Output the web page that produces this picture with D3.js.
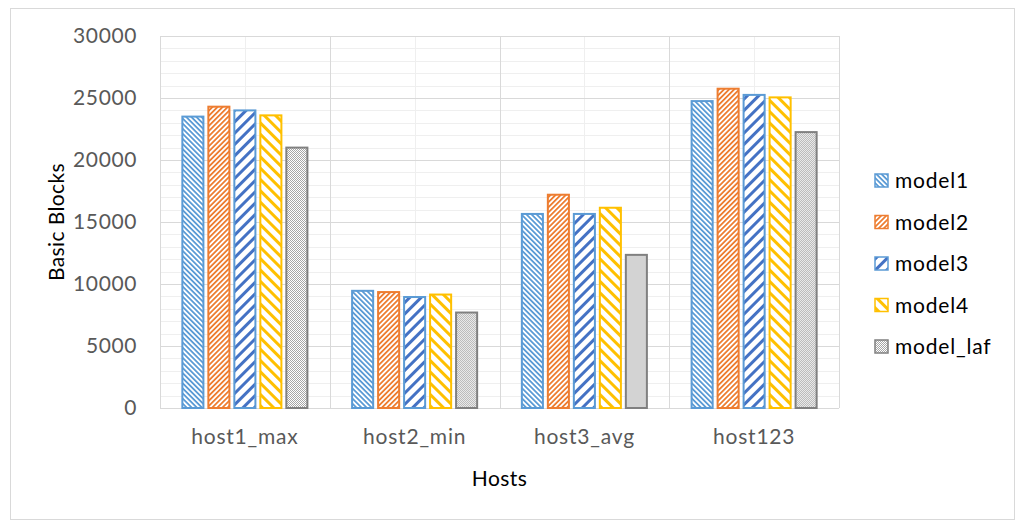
<!DOCTYPE html>
<html>
<head>
<meta charset="utf-8">
<script src="https://cdn.jsdelivr.net/npm/d3@7"></script>
<style>
  body { margin: 0; background: #fff; }
  #chart { width: 1024px; height: 528px; }
  text { font-family: Lato, "Noto Sans", sans-serif; }
</style>
</head>
<body>
<div id="chart"></div>
<script>
const hosts = ['host1_max', 'host2_min', 'host3_avg', 'host123']
const models = ['model1', 'model2', 'model3', 'model4', 'model_laf']
const model1 = [23500, 9450, 15650, 24750]
const model2 = [24300, 9350, 17200, 25750]
const model3 = [24000, 8950, 15650, 25250]
const model4 = [23600, 9150, 16150, 25050]
const modelLaf = [21000, 7700, 12350, 22250]
const yTicks = [0, 5000, 10000, 15000, 20000, 25000, 30000]

const seriesValues = [model1, model2, model3, model4, modelLaf]

const width = 1024
const height = 528
const margin = { top: 36, right: 185, bottom: 120, left: 160 }
const plotW = width - margin.left - margin.right
const plotH = height - margin.top - margin.bottom

const svg = d3.select('#chart').append('svg')
  .attr('width', width)
  .attr('height', height)

// outer chart border
svg.append('rect')
  .attr('x', 10.5).attr('y', 8.5)
  .attr('width', 1004).attr('height', 511)
  .attr('fill', '#fff')
  .attr('stroke', '#d9d9d9')

// patterns, roughly the excel fills
const defs = svg.append('defs')
const stripe = (id, color, size, band, angle) => {
  const p = defs.append('pattern')
    .attr('id', id)
    .attr('patternUnits', 'userSpaceOnUse')
    .attr('width', size).attr('height', size)
    .attr('patternTransform', 'rotate(' + angle + ')')
  p.append('rect').attr('width', size).attr('height', size).attr('fill', '#fff')
  p.append('rect').attr('width', band).attr('height', size).attr('fill', color)
}
stripe('p-model1', '#5b9bd5', 3.6, 1.8, -45)
stripe('p-model2', '#ed7d31', 3.6, 1.8, 45)
stripe('p-model3', '#4472c4', 8, 3, 45)
stripe('p-model4', '#ffc000', 8, 3, -45)
const chk = defs.append('pattern')
  .attr('id', 'p-model_laf')
  .attr('patternUnits', 'userSpaceOnUse')
  .attr('width', 2).attr('height', 2)
chk.append('rect').attr('width', 2).attr('height', 2).attr('fill', '#fff')
chk.append('rect').attr('width', 1).attr('height', 1).attr('fill', '#a6a6a6')
chk.append('rect').attr('x', 1).attr('y', 1).attr('width', 1).attr('height', 1).attr('fill', '#a6a6a6')

const strokes = { model1: '#5b9bd5', model2: '#ed7d31', model3: '#5b9bd5', model4: '#ffc000', model_laf: '#808080' }

const g = svg.append('g')
  .attr('transform', 'translate(' + margin.left + ',' + margin.top + ')')

const x0 = d3.scaleBand().domain(hosts).range([0, plotW])
const x1 = d3.scaleBand().domain(models).range([0, x0.bandwidth()])
  .paddingInner(0.19).paddingOuter(0.86)
const y = d3.scaleLinear().domain([0, 30000]).range([plotH, 0])

// minor horizontal grid
g.append('g').selectAll('line')
  .data(d3.range(0, 30001, 1000).filter(v => v % 5000 !== 0))
  .enter().append('line')
  .attr('x1', 0).attr('x2', plotW)
  .attr('y1', d => Math.round(y(d)) + 0.5).attr('y2', d => Math.round(y(d)) + 0.5)
  .attr('stroke', '#efefef')

// minor vertical grid at category centres
g.append('g').selectAll('line')
  .data(hosts)
  .enter().append('line')
  .attr('x1', d => Math.round(x0(d) + x0.bandwidth() / 2) + 0.5)
  .attr('x2', d => Math.round(x0(d) + x0.bandwidth() / 2) + 0.5)
  .attr('y1', 0).attr('y2', plotH)
  .attr('stroke', '#efefef')

// major horizontal grid
g.append('g').selectAll('line')
  .data(yTicks)
  .enter().append('line')
  .attr('x1', 0).attr('x2', plotW)
  .attr('y1', d => Math.round(y(d)) + 0.5).attr('y2', d => Math.round(y(d)) + 0.5)
  .attr('stroke', '#d9d9d9')

// major vertical grid at category boundaries
g.append('g').selectAll('line')
  .data(hosts.concat(['end']))
  .enter().append('line')
  .attr('x1', (d, i) => Math.round(i * x0.step()) + 0.5)
  .attr('x2', (d, i) => Math.round(i * x0.step()) + 0.5)
  .attr('y1', 0).attr('y2', plotH)
  .attr('stroke', '#d9d9d9')

// bars
const groups = g.append('g').selectAll('g')
  .data(hosts)
  .enter().append('g')
  .attr('transform', d => 'translate(' + x0(d) + ',0)')

groups.selectAll('rect')
  .data((h, i) => models.map((m, j) => ({ model: m, value: seriesValues[j][i] })))
  .enter().append('rect')
  .attr('x', d => x1(d.model))
  .attr('y', d => y(d.value))
  .attr('width', x1.bandwidth())
  .attr('height', d => plotH - y(d.value))
  .attr('fill', d => 'url(#p-' + d.model + ')')
  .attr('stroke', d => strokes[d.model])
  .attr('stroke-width', 2)

// y axis labels
const yAxis = g.append('g')
  .call(d3.axisLeft(y).tickValues(yTicks).tickFormat(d3.format('d')).tickSize(0).tickPadding(23))
yAxis.select('.domain').remove()
yAxis.selectAll('text')
  .attr('fill', '#595959')
  .style('font-size', '21px')
  .style('letter-spacing', '0.6px')
  .style('font-family', 'Lato, sans-serif')

// x axis labels
const xAxis = g.append('g')
  .attr('transform', 'translate(0,' + plotH + ')')
  .call(d3.axisBottom(x0).tickSize(0).tickPadding(21))
xAxis.select('.domain').remove()
xAxis.selectAll('text')
  .attr('fill', '#595959')
  .style('font-size', '21px')
  .style('letter-spacing', '0.8px')
  .style('font-family', 'Lato, sans-serif')

// axis titles
svg.append('text')
  .attr('transform', 'translate(64,' + (margin.top + plotH / 2) + ') rotate(-90)')
  .attr('text-anchor', 'middle')
  .style('font-size', '21px')
  .style('letter-spacing', '0.4px')
  .attr('fill', '#000')
  .text('Basic Blocks')

svg.append('text')
  .attr('x', margin.left + plotW / 2)
  .attr('y', 486)
  .attr('text-anchor', 'middle')
  .style('font-size', '21px')
  .style('letter-spacing', '0.4px')
  .attr('fill', '#000')
  .text('Hosts')

// legend
const legend = svg.append('g')
  .selectAll('g')
  .data(models)
  .enter().append('g')
  .attr('transform', (d, i) => 'translate(875,' + (174 + i * 41.5) + ')')

legend.append('rect')
  .attr('width', 13).attr('height', 13)
  .attr('fill', d => 'url(#p-' + d + ')')
  .attr('stroke', d => strokes[d])
  .attr('stroke-width', 1.5)

legend.append('text')
  .attr('x', 20)
  .attr('y', 14)
  .style('font-size', '21px')
  .style('letter-spacing', '0.8px')
  .attr('fill', '#000')
  .text(d => d)
</script>
</body>
</html>
